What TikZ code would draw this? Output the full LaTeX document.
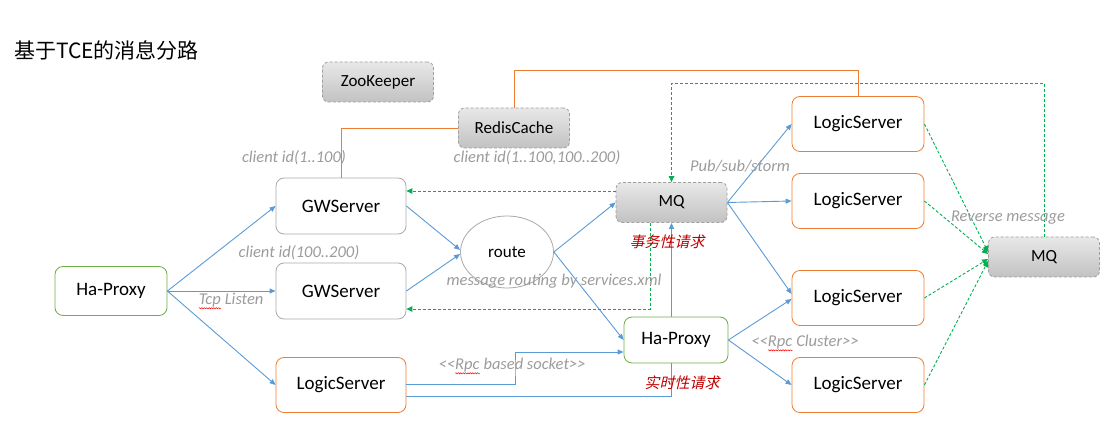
\documentclass[tikz,border=0pt]{standalone}
\usepackage{fontspec}
\setmainfont{Carlito}
\newfontfamily\cjk{Noto Sans CJK SC}
\newfontfamily\cjkit[FakeSlant=0.22]{Noto Sans CJK SC}
\usetikzlibrary{arrows.meta,decorations.pathmorphing,shapes.geometric,calc}
\definecolor{lblue}{RGB}{91,155,213}
\definecolor{lorange}{RGB}{237,125,49}
\definecolor{lgreen}{RGB}{112,173,71}
\definecolor{dgreen}{RGB}{0,176,80}
\definecolor{lgray}{RGB}{170,170,170}
\definecolor{tgray}{RGB}{155,155,155}
\definecolor{dred}{RGB}{192,0,0}
\pgfdeclarelayer{bg}
\pgfsetlayers{bg,main}
\newcommand\mysq[1]{\begin{tikzpicture}[baseline=(w.base),x=1pt,y=1pt]\node[inner sep=0pt,outer sep=0pt](w){#1};\draw[red,line width=0.5pt,decorate,decoration={snake,amplitude=0.6pt,segment length=2.4pt}] ([yshift=-4pt]w.base west)--([yshift=-4pt]w.base east);\end{tikzpicture}}
\begin{document}
\begin{tikzpicture}[x=1pt,y=-1pt,
  base/.style={rounded corners=8pt, line width=0.8pt, align=center, inner sep=0pt,
    font=\fontsize{19}{22}\selectfont},
  gwbox/.style={base, draw=lgray, fill=white, minimum width=130pt, minimum height=56pt},
  orbox/.style={base, draw=lorange, fill=white, minimum width=132pt, minimum height=55pt},
  grbox/.style={base, draw=lgreen, fill=white, minimum width=112pt, minimum height=49pt},
  graybox/.style={base, rounded corners=6pt, draw=gray!75, dash pattern=on 3pt off 2pt,
    top color=gray!18, bottom color=gray!48, minimum width=111pt, minimum height=40pt,
    font=\fontsize{17}{20}\selectfont},
  lbl/.style={text=tgray, font=\fontsize{16.5}{19}\selectfont\itshape, inner sep=0pt},
  redlbl/.style={text=dred, font=\fontsize{15}{18}\selectfont\cjkit, inner sep=0pt},
  barrow/.style={draw=lblue, line width=0.9pt, -{Triangle[length=6pt,width=5pt]}},
  garrow/.style={draw=dgreen, line width=0.9pt, dash pattern=on 3pt off 2pt, -{Triangle[length=6pt,width=5.5pt]}},
  oline/.style={draw=lorange, line width=0.9pt}
]
\useasboundingbox (0,0) rectangle (1119,435);

\node[anchor=west, inner sep=0pt, font=\fontsize{21}{24}\selectfont\cjk] (title) at (14,50) {基于TCE的消息分路};

% nodes
\node[graybox] (zk) at (378,82) {ZooKeeper};
\node[graybox] (redis) at (514,128) {RedisCache};
\node[gwbox] (gw1) at (341,206) {GWServer};
\node[gwbox] (gw2) at (341,291) {GWServer};
\node[grbox] (hp1) at (111,291) {Ha-Proxy};
\node[orbox, minimum width=130pt] (lsL) at (341,385) {LogicServer};
\node[ellipse, draw=lgray, line width=0.8pt, fill=white, minimum width=93pt, minimum height=72pt, inner sep=0pt,
  font=\fontsize{17}{20}\selectfont] (route) at (507,252) {route};
\node[graybox] (mq1) at (671.5,202.5) {MQ};
\node[grbox, minimum width=104pt, minimum height=46pt] (hp2) at (676,340) {Ha-Proxy};
\node[orbox] (ls1) at (858,124) {LogicServer};
\node[orbox] (ls2) at (858,201) {LogicServer};
\node[orbox] (ls3) at (858,298) {LogicServer};
\node[orbox] (ls4) at (858,385) {LogicServer};
\node[graybox] (mq2) at (1044,257) {MQ};

% orange lines
\coordinate (ot) at (858,70);
\draw[oline] (redis.west) -| (gw1.north);
\draw[oline] (redis.north) |- (ot) -- (ls1.north);

% blue arrows
\draw[barrow] (hp1.east) -- (gw1.west);
\draw[barrow] (hp1.east) -- (gw2.west);
\draw[barrow] (hp1.east) -- (lsL.west);
\draw[barrow] (gw1.east) -- ([yshift=2pt]route.west);
\draw[barrow] (gw2.east) -- ([yshift=-2pt]route.west);
\draw[barrow] (route.east) -- (mq1.west);
\draw[barrow] (route.east) -- (hp2.west);
\draw[barrow] (mq1.east) -- (ls1.west);
\draw[barrow] (mq1.east) -- (ls2.west);
\draw[barrow] (mq1.east) -- ([yshift=4pt]ls3.west);
\draw[barrow] (hp2.east) -- ([yshift=-1pt]ls3.west);
\draw[barrow] (hp2.east) -- (ls4.west);

\path (lsL.east) ++(0,-1) coordinate (b1s);
\path (hp2.west) ++(0,12) coordinate (b1e);
\draw[barrow] (b1s) -| ($(b1s)!.5!(b1e)$) |- (b1e);
\path (lsL.east) ++(0,11) coordinate (b2s);
\begin{pgfonlayer}{bg}
\draw[barrow] (b2s) -| (mq1.south);
\end{pgfonlayer}

% green dashed arrows
\path (mq1.west) ++(0,-11.5) coordinate (g1s);
\draw[garrow] (g1s) -- (g1s -| gw1.east);
\path (mq1.south) ++(-21.5,0) coordinate (g2s);
\path (gw2.east) ++(0,18) coordinate (g2e);
\draw[garrow] (g2s) |- (g2e);
\coordinate (gt) at (1044,83);
\draw[garrow] (mq2.north) -- (gt) -| (mq1.north);
\draw[garrow] (ls1.east) -- ([yshift=5pt]mq2.west);
\draw[garrow] (ls2.east) -- ([yshift=3pt]mq2.west);
\draw[garrow] (ls3.east) -- ([yshift=-2pt]mq2.west);
\draw[garrow] (ls4.east) -- ([yshift=-4pt]mq2.west);

% labels
\node[lbl] (l1) at (294,158) {client id(1..100)};
\node[lbl] (l2) at (537,158) {client id(1..100,100..200)};
\node[lbl] (l3) at (299,253) {client id(100..200)};
\node[lbl] (l4) at (231,301) {\mysq{Tcp} Listen};
\node[lbl] (l5) at (554,281) {message routing by services.xml};
\node[lbl] (l6) at (740,166) {Pub/sub/storm};
\node[lbl] (l7) at (1008,218) {Reverse message};
\node[lbl] (l8) at (512,366) {<{}<\mysq{Rpc} based socket>{}>};
\node[lbl] (l9) at (805,343) {<{}<\mysq{Rpc} Cluster>{}>};
\node[redlbl] (r1) at (667,242) {事务性请求};
\node[redlbl] (r2) at (682,383) {实时性请求};
\end{tikzpicture}
\end{document}
